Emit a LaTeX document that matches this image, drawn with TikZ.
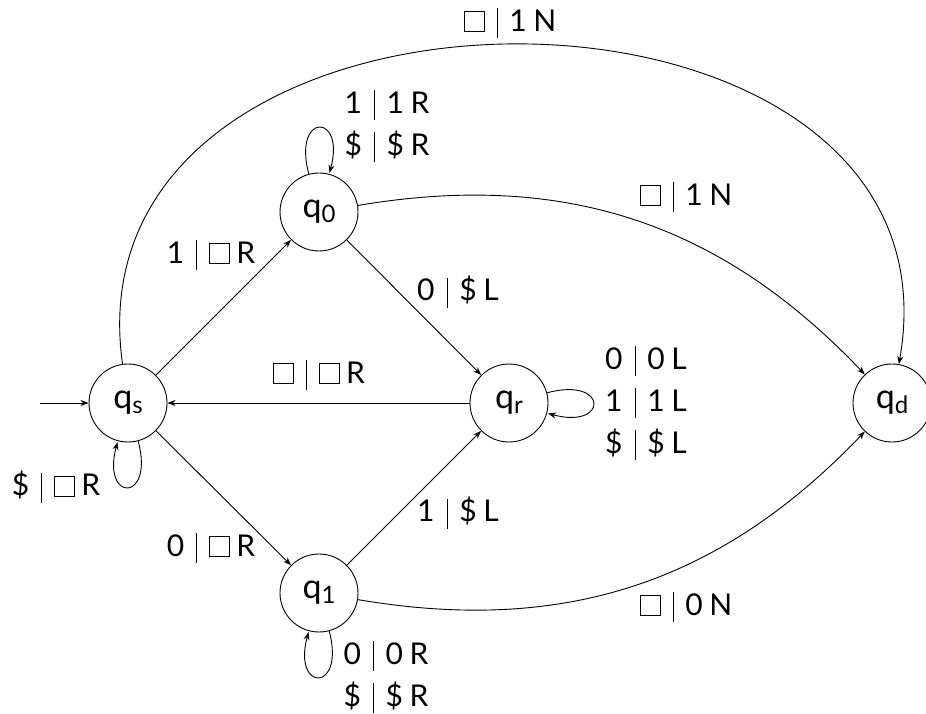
\documentclass[tikz,border=0pt]{standalone}
\usepackage{fontspec}
\setmainfont{Lato}
\usetikzlibrary{arrows.meta}
\newcommand\blk{{\setlength\fboxsep{0pt}\setlength\fboxrule{0.8pt}\fbox{\rule{0pt}{0.64em}\rule{0.64em}{0pt}}}}
\newcommand\br{\hspace{0.4em}\rule[-0.22em]{0.8pt}{1.0em}\hspace{0.4em}}
\newcommand\gapsp{\hspace{0.22em}}
\newcommand\st[1]{q\raisebox{-0.25ex}{\fontsize{24}{24}\selectfont #1}}
\begin{document}
\begin{tikzpicture}[x=1pt,y=1pt, line width=0.9pt,
  >={Stealth[length=8pt,width=6pt,inset=2.5pt]},
  state/.style={circle, draw, minimum size=78pt, inner sep=0pt, font=\fontsize{34}{40}\selectfont},
  lbl/.style={font=\fontsize{30}{42}\selectfont, align=center, inner sep=0pt}]
\useasboundingbox (0,0) rectangle (926,713);
\node[state] (qs) at (128,310) {\st{s}};
\node[state] (q0) at (319,501) {\st{0}};
\node[state] (qr) at (509,310) {\st{r}};
\node[state] (q1) at (319,120) {\st{1}};
\node[state] (qd) at (892,310) {\st{d}};
\coordinate (init) at (40,310);

\draw[->] (init) -- (qs);
\draw[->] (qs) -- (q0);
\draw[->] (qs) -- (q1);
\draw[->] (q0) -- (qr);
\draw[->] (q1) -- (qr);
\draw[->] (qr) -- (qs);
\draw[->] (q0) to[bend left=28] (qd);
\draw[->] (q1) to[bend right=28] (qd);
\draw[->] (qs) to[out=98,in=80,looseness=1.425] (qd);
\path[->] (q0) edge[loop above] ();
\path[->] (qs) edge[loop below] ();
\path[->] (q1) edge[loop below] ();
\path[->] (qr) edge[loop right] ();

\node[lbl] (ls0) at (211,458) {1\br\blk\gapsp R};
\node[lbl] (ls1) at (211,165) {0\br\blk\gapsp R};
\node[lbl] (l0r) at (458,421) {0\br\$\gapsp L};
\node[lbl] (l1r) at (458,200) {1\br\$\gapsp L};
\node[lbl] (lrs) at (319,338) {\blk\br\blk\gapsp R};
\node[lbl] (l0d) at (686,516) {\blk\br1\gapsp N};
\node[lbl] (l1d) at (686,106) {\blk\br0\gapsp N};
\node[lbl] (lsd) at (510,690) {\blk\br1\gapsp N};
\node[lbl] (lss) at (56,226) {\$\br\blk\gapsp R};
\node[lbl] (l00) at (387,587) {1\br1\gapsp R\\\$\br\$\gapsp R};
\node[lbl] (lrr) at (646,310) {0\br0\gapsp L\\1\br1\gapsp L\\\$\br\$\gapsp L};
\node[lbl] (l11) at (386,36) {0\br0\gapsp R\\\$\br\$\gapsp R};
\end{tikzpicture}
\end{document}
